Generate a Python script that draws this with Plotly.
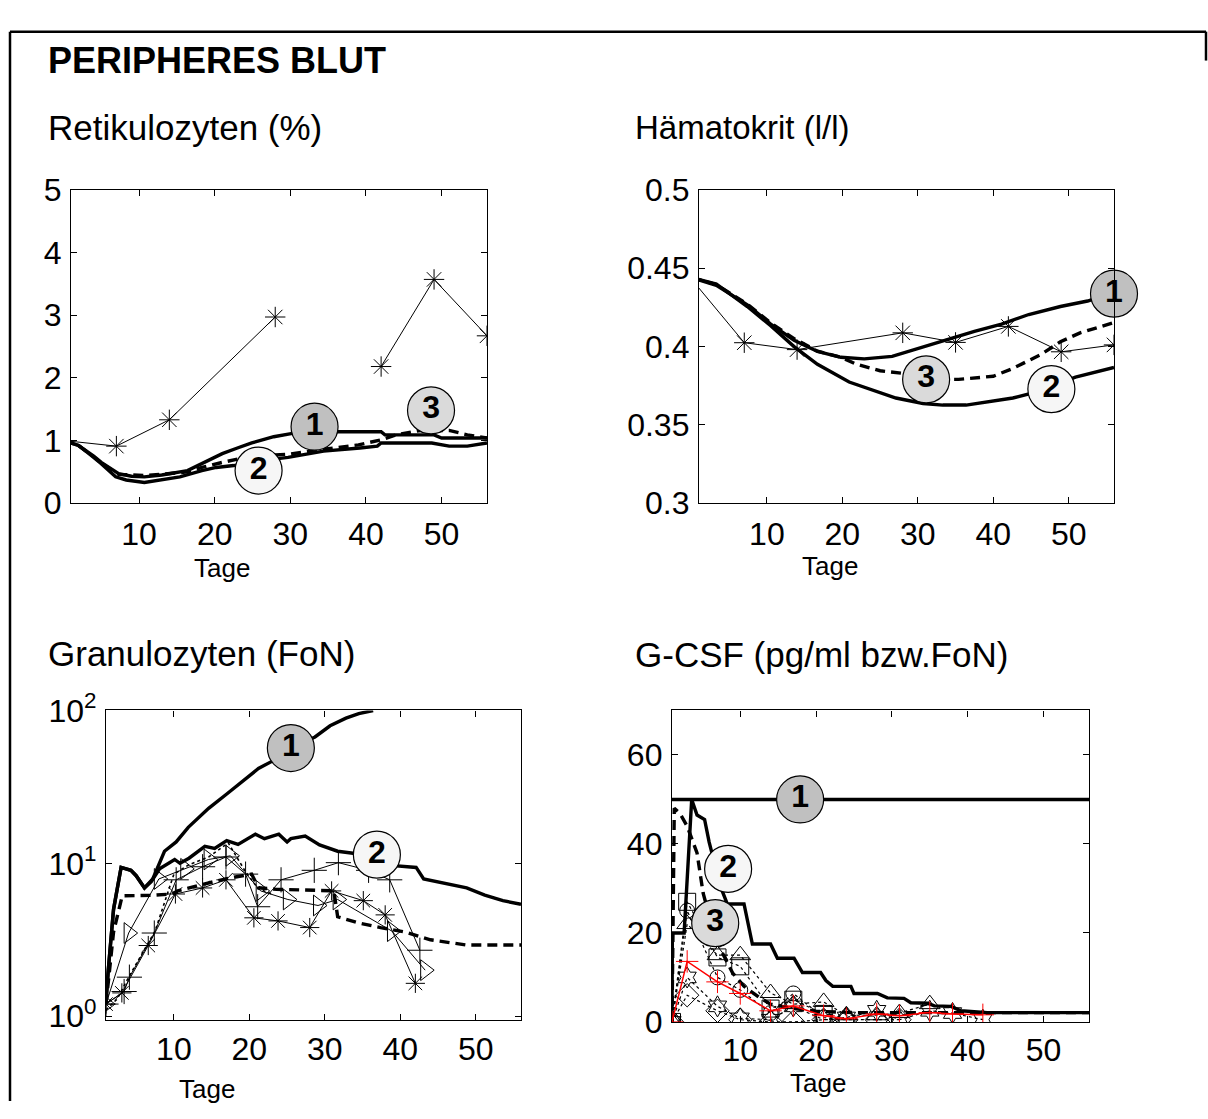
import plotly.graph_objects as go

W, H = 1208, 1119
FONT = "Liberation Sans, Arial, sans-serif"

# ---------------- Retikulozyten (%) ----------------
ret_meas_x1 = [0, 7, 14, 28]
ret_meas_y1 = [1.0, 0.91, 1.33, 2.97]
ret_meas_x2 = [42, 49, 56]
ret_meas_y2 = [2.18, 3.57, 2.67]
ret_m1_x = [0, 2, 4, 5, 7.3, 9, 10.7, 13, 16.4, 18.3, 21, 23, 24.9, 27.8, 30.1, 33, 36, 40, 42, 42.5, 48, 49, 50, 56]
ret_m1_y = [1.0, 0.92, 0.75, 0.65, 0.47, 0.43, 0.42, 0.45, 0.52, 0.63, 0.79, 0.88, 0.96, 1.06, 1.11, 1.14, 1.14, 1.14, 1.14, 1.09, 1.09, 1.09, 1.04, 1.04]
ret_m2_x = [0, 2, 4, 5, 6.9, 8.3, 10.7, 13, 15.4, 18.3, 20.2, 22.5, 25, 27, 29.7, 34.4, 39.2, 41.5, 42, 48.7, 51, 53.4, 56]
ret_m2_y = [1.0, 0.92, 0.73, 0.63, 0.42, 0.37, 0.33, 0.37, 0.42, 0.52, 0.57, 0.60, 0.65, 0.69, 0.73, 0.83, 0.88, 0.91, 0.96, 0.96, 0.91, 0.91, 0.96]
ret_m3_x = [0, 2, 4, 5, 7.3, 10.7, 13, 16.4, 18.3, 21, 24.9, 29.7, 34.4, 39, 42, 44, 47.2, 51, 53.4, 56]
ret_m3_y = [1.0, 0.92, 0.74, 0.64, 0.46, 0.44, 0.46, 0.50, 0.57, 0.65, 0.75, 0.78, 0.86, 0.93, 1.01, 1.09, 1.16, 1.16, 1.09, 1.04]
ret_lab_x = [33.2, 25.8, 48.6]
ret_lab_y = [1.22, 0.52, 1.48]

# ---------------- Hämatokrit (l/l) ----------------
hk_meas_x = [0, 7, 14, 28, 35, 42, 49, 56]
hk_meas_y = [0.443, 0.4024, 0.398, 0.4087, 0.4026, 0.4128, 0.3966, 0.401]
hk_m1_x = [0, 3.3, 7.4, 10.5, 13.6, 16.7, 19.8, 22.9, 26.6, 30.2, 34.4, 37.5, 41.1, 44.7, 48.9, 52.5, 56]
hk_m1_y = [0.444, 0.439, 0.4266, 0.4143, 0.404, 0.3968, 0.3931, 0.3921, 0.3937, 0.3989, 0.405, 0.4097, 0.4143, 0.4204, 0.4255, 0.429, 0.4345]
hk_m2_x = [0, 3.3, 7.4, 10.5, 13.6, 16.7, 20.9, 24, 27.1, 30.7, 33.3, 36.4, 39.5, 42.6, 45, 47.7, 50.9, 56]
hk_m2_y = [0.444, 0.4399, 0.4255, 0.4132, 0.3999, 0.3886, 0.3773, 0.3722, 0.3671, 0.3636, 0.3626, 0.3626, 0.365, 0.3671, 0.370, 0.3745, 0.3804, 0.3866]
hk_m3_x = [0, 3.3, 7.4, 10.5, 13.6, 16.7, 19.8, 21.9, 25, 28.7, 31.1, 35.4, 40, 42.6, 46.3, 48.9, 51.5, 56]
hk_m3_y = [0.444, 0.4395, 0.427, 0.415, 0.405, 0.397, 0.3931, 0.3886, 0.3845, 0.3825, 0.379, 0.379, 0.381, 0.386, 0.3948, 0.403, 0.4087, 0.4153]
hk_lab_x = [56, 47.7, 31.1]
hk_lab_y = [0.4337, 0.3728, 0.379]

# ---------------- Granulozyten (FoN) ----------------
gr_m1_x = [1, 1.3, 2, 3, 4.3, 5, 6.1, 7.2, 8.75, 10.3, 11.9, 14.1, 14.6, 17, 19.3, 21.2, 23.1, 25.5, 28.7, 30.7, 32.8, 34.5, 36.4]
gr_m1_y = [1.23, 2.0, 5.0, 9.4, 9.0, 8.3, 6.9, 7.9, 12.0, 13.8, 17.2, 21.9, 22.9, 28.4, 35.3, 41.7, 46.8, 56.8, 67.1, 79.4, 89.1, 95.5, 100]
gr_m2_x = [1, 1.3, 2, 3, 4.3, 5, 6.1, 7, 8.1, 10.1, 10.8, 12, 14.1, 15.4, 17, 18.5, 20.8, 22, 23.9, 25, 25.5, 27.4, 29.3, 31.7, 34, 36.9, 38.8, 42.1, 43.1, 46, 48.8, 51.2, 53.6, 56]
gr_m2_y = [1.23, 2.0, 5.0, 9.4, 9.0, 8.3, 6.9, 7.6, 9.2, 10.6, 10.0, 10.8, 12.9, 12.5, 14.1, 13.3, 15.5, 14.5, 15.5, 13.8, 14.5, 15.1, 13.2, 12.0, 11.6, 11.4, 9.7, 9.4, 7.9, 7.4, 6.9, 6.2, 5.7, 5.4]
gr_m3_x = [1, 1.5, 2, 3.15, 7, 9.8, 10.5, 13.6, 17, 20.3, 21.2, 23.6, 29.8, 31.2, 31.7, 34.5, 37.4, 40.7, 44, 48.8, 53, 56]
gr_m3_y = [1.2, 2.0, 3.55, 6.13, 6.17, 6.3, 6.6, 7.24, 7.94, 8.51, 6.92, 6.76, 6.61, 6.61, 4.47, 4.07, 3.80, 3.55, 3.16, 2.92, 2.92, 2.92]
gr_pa_x = [1, 3.4, 4.1, 7.4, 10.3, 13.8, 16.9, 19.5, 21.1, 24.2, 28.6, 31.8, 35.8, 38.6, 42.6]
gr_pa_y = [1.2, 1.45, 1.8, 3.5, 7.8, 9.5, 11.0, 8.5, 5.2, 7.8, 9.0, 10.1, 9.0, 7.8, 2.7]
gr_pb_x = [1, 3.1, 6.6, 10.2, 13.8, 16.9, 20.6, 23.8, 28, 30.9, 35.1, 38, 42]
gr_pb_y = [1.2, 1.42, 2.9, 6.3, 6.9, 7.8, 4.4, 4.2, 3.8, 6.6, 5.7, 4.6, 1.64]
gr_pc_x = [1, 4.0, 8.0, 11.5, 14.6, 17.5, 21.5, 25.1, 29.1, 31.7, 38.9, 43.3]
gr_pc_y = [1.2, 3.5, 7.9, 9.2, 10.6, 11.2, 6.6, 5.8, 5.3, 5.8, 3.6, 2.0]
gr_pd_x = [1, 2.5, 4, 7.5, 10, 12, 14.6, 17.2, 19.5, 21.2, 23]
gr_pd_y = [1.1, 1.3, 1.8, 3.6, 8.5, 9.8, 11, 13.6, 8.8, 6.8, 6.3]
gr_lab_x = [25.5, 36.9, 56.3]
gr_lab_y = [56.8, 11.4, 3.13]

# ---------------- G-CSF (pg/ml bzw. FoN) ----------------
cs_m1_x = [1, 56]
cs_m1_y = [50, 50]
cs_m2_x = [1, 1.05, 2.6, 3.6, 4.3, 5.3, 5.9, 7.4, 8.3, 10.5, 11.6, 14.0, 14.9, 17.1, 18.2, 20.6, 21.3, 22.2, 24.6, 25.0, 28.1, 29.4, 31.6, 32.5, 34.7, 35.6, 37.8, 39.1, 42.6, 56]
cs_m2_y = [0, 20, 20, 50, 46.5, 45.5, 40.4, 30.4, 26.5, 26.5, 17.5, 17.5, 14.3, 14.3, 11.1, 11.1, 9.3, 8.0, 8.0, 6.4, 6.4, 5.4, 5.3, 4.3, 4.2, 3.6, 3.5, 2.5, 2.1, 2.1]
cs_m3_x = [1, 1.3, 2, 3, 4.3, 5.1, 6.2, 7.5, 9, 10.5, 12.5, 14, 17, 20, 25, 56]
cs_m3_y = [0, 48, 47, 44, 38, 29, 22, 16, 11, 8, 5.5, 4, 3, 2.4, 2.1, 2.1]
cs_red_x = [1, 3, 7, 10, 14, 17, 21, 24, 28, 31, 35, 38, 42]
cs_red_y = [0, 13.6, 9.0, 6.4, 2.5, 3.6, 1.4, 0.7, 1.8, 1.4, 2.1, 1.8, 1.6]
cs_sq_x = [1, 3, 7, 10, 14, 17, 21]
cs_sq_y = [0, 27, 14.5, 12.5, 3, 5, 1.8]
cs_ci_x = [1, 3, 7, 10, 14, 17, 21, 24]
cs_ci_y = [0, 25, 10, 7.2, 2, 6.4, 1, 0.5]
cs_di_x = [1, 3, 7, 10, 14, 17, 21, 24, 28, 31]
cs_di_y = [0, 6, 2.5, 0.5, 0, 0, 0.5, 0.5, 0.5, 0.5]
cs_tr_x = [1, 3, 7, 10, 14, 17, 21, 24, 28, 31, 35]
cs_tr_y = [0, 22, 15, 15, 6.5, 4, 4.5, 1.5, 1.5, 2, 4]
cs_hx_x = [1, 3, 7, 10, 14, 17, 21, 24, 28, 31, 35, 38, 42]
cs_hx_y = [0, 10, 3.5, 0.8, 0.5, 3.5, 0.5, 1, 2.5, 0.5, 2.5, 2, 0.5]
cs_lab_x = [17.9, 8.4, 6.7]
cs_lab_y = [50, 34.4, 22.2]

lab_text = ["1", "2", "3"]
lab_fill = ["#c0c0c0", "#f6f6f6", "#dadada"]

# panel geometry (pixels): left, right, top, bottom
panels = {
    "tl": (71, 487, 174, 499),
    "tr": (699, 1114, 174, 499),
    "bl": (106, 521, 714, 1035),
    "br": (672, 1089, 714, 1037),
}

fig = go.Figure()

def ax_ids(i):
    return ("x" if i == 1 else f"x{i}"), ("y" if i == 1 else f"y{i}")

def add_line(i, x, y, width=3.4, dash="solid", color="black", marker=None, msize=12):
    xa, ya = ax_ids(i)
    kw = dict(x=x, y=y, xaxis=xa, yaxis=ya, showlegend=False, hoverinfo="skip",
              line=dict(color=color, width=width, dash=dash))
    if marker:
        kw["mode"] = "lines+markers"
        kw["marker"] = dict(symbol=marker, size=msize, color=color,
                            line=dict(color=color, width=1))
    else:
        kw["mode"] = "lines"
    fig.add_trace(go.Scatter(**kw))

def add_labels(i, x, y):
    xa, ya = ax_ids(i)
    fig.add_trace(go.Scatter(
        x=x, y=y, xaxis=xa, yaxis=ya, mode="markers+text",
        text=[f"<b>{t}</b>" for t in lab_text], textposition="middle center",
        textfont=dict(family=FONT, size=32, color="black"),
        marker=dict(symbol="circle", size=47, color=lab_fill,
                    line=dict(color="black", width=1.2)),
        cliponaxis=False, showlegend=False, hoverinfo="skip"))

DASH = "10px,6px"

# Panel 1
add_line(1, ret_m2_x, ret_m2_y)
add_line(1, ret_m3_x, ret_m3_y, dash=DASH)
add_line(1, ret_m1_x, ret_m1_y)
add_line(1, ret_meas_x1, ret_meas_y1, width=1, marker="asterisk-open", msize=17)
add_line(1, ret_meas_x2, ret_meas_y2, width=1, marker="asterisk-open", msize=17)
add_labels(1, ret_lab_x, ret_lab_y)

# Panel 2
add_line(2, hk_m2_x, hk_m2_y)
add_line(2, hk_m3_x, hk_m3_y, dash=DASH)
add_line(2, hk_m1_x, hk_m1_y)
add_line(2, hk_meas_x, hk_meas_y, width=1, marker="asterisk-open", msize=17)
add_labels(2, hk_lab_x, hk_lab_y)

# Panel 3
add_line(3, gr_pd_x, gr_pd_y, width=1.6, dash="dot")
add_line(3, gr_pa_x, gr_pa_y, width=1, marker="cross-thin-open", msize=18)
add_line(3, gr_pb_x, gr_pb_y, width=1, marker="asterisk-open", msize=16)
add_line(3, gr_pc_x, gr_pc_y, width=1, marker="triangle-right-open", msize=18)
add_line(3, gr_m3_x, gr_m3_y, dash=DASH)
add_line(3, gr_m2_x, gr_m2_y)
add_line(3, gr_m1_x, gr_m1_y)
add_labels(3, gr_lab_x, gr_lab_y)

# Panel 4
add_line(4, cs_sq_x, cs_sq_y, width=1.2, dash="dot", marker="square-open", msize=17)
add_line(4, cs_ci_x, cs_ci_y, width=1.2, dash="dot", marker="circle-open", msize=15)
add_line(4, cs_di_x, cs_di_y, width=1.2, dash="dot", marker="diamond-open", msize=18)
add_line(4, cs_tr_x, cs_tr_y, width=1.2, dash="dot", marker="triangle-up-open", msize=18)
add_line(4, cs_hx_x, cs_hx_y, width=1.2, dash="dot", marker="hexagram-open", msize=16)
add_line(4, cs_m3_x, cs_m3_y, dash=DASH)
add_line(4, cs_m2_x, cs_m2_y)
add_line(4, cs_m1_x, cs_m1_y)
add_line(4, cs_red_x, cs_red_y, width=1.5, color="red", marker="cross-thin-open", msize=16)
add_labels(4, cs_lab_x, cs_lab_y)

axis_common = dict(showline=True, linecolor="black", linewidth=1.3, mirror="ticks",
                   ticks="inside", ticklen=6, tickcolor="black", tickwidth=1,
                   showgrid=False, zeroline=False,
                   tickfont=dict(family=FONT, size=32, color="black"))

def xdom(p):
    return [p[0] / W, p[1] / W]

def ydom(p):
    return [1 - p[3] / H, 1 - p[2] / H]

layout = dict(
    width=W, height=H, margin=dict(l=0, r=0, t=0, b=0),
    paper_bgcolor="white", plot_bgcolor="white", showlegend=False,
)
xticks = [10, 20, 30, 40, 50]
order = ["tl", "tr", "bl", "br"]
standoff = {"tl": 2, "tr": 2, "bl": 0, "br": 0}
for i, key in enumerate(order, start=1):
    p = panels[key]
    xn = "xaxis" if i == 1 else f"xaxis{i}"
    yn = "yaxis" if i == 1 else f"yaxis{i}"
    ya_ref = "y" if i == 1 else f"y{i}"
    xa_ref = "x" if i == 1 else f"x{i}"
    layout[xn] = dict(axis_common, domain=xdom(p), anchor=ya_ref, range=[1, 56],
                      tickmode="array", tickvals=xticks, ticklabelstandoff=standoff[key])
    layout[yn] = dict(axis_common, domain=ydom(p), anchor=xa_ref, ticklabelstandoff=2)

layout["yaxis"].update(range=[0, 5], tickmode="array", tickvals=[0, 1, 2, 3, 4, 5])
layout["yaxis2"].update(range=[0.3, 0.5], tickmode="array",
                        tickvals=[0.3, 0.35, 0.4, 0.45, 0.5],
                        ticktext=["0.3", "0.35", "0.4", "0.45", "0.5"])
layout["yaxis3"].update(type="log", range=[-0.025, 2.0], tickmode="array",
                        tickvals=[1, 10, 100],
                        ticktext=["10<sup>0</sup>", "10<sup>1</sup>", "10<sup>2</sup>"])
layout["yaxis4"].update(range=[0, 70], tickmode="array", tickvals=[0, 20, 40, 60])

fig.update_layout(**layout)

def px_ann(text, x, y, size, bold=False, xanchor="left"):
    fig.add_annotation(text=(f"<b>{text}</b>" if bold else text),
                       x=x / W, y=1 - y / H, xref="paper", yref="paper",
                       xanchor=xanchor, yanchor="middle", showarrow=False,
                       font=dict(family=FONT, size=size, color="black"))

px_ann("PERIPHERES BLUT", 46, 40, 36, bold=True)
px_ann("Retikulozyten (%)", 46, 109, 35)
px_ann("Hämatokrit (l/l)", 633, 109, 33)
px_ann("Granulozyten (FoN)", 46, 655, 35)
px_ann("G-CSF (pg/ml bzw.FoN)", 633, 656, 35)
px_ann("Tage", 222, 566, 26, xanchor="center")
px_ann("Tage", 830, 564, 26, xanchor="center")
px_ann("Tage", 207, 1107, 26, xanchor="center")
px_ann("Tage", 818, 1100, 26, xanchor="center")

# outer frame: left and top edges, short right edge at the top corner
frame = dict(type="line", xref="paper", yref="paper", line=dict(color="black", width=2.5))
fig.add_shape(x0=10 / W, x1=10 / W, y0=0, y1=1 - 10 / H, **frame)
fig.add_shape(x0=10 / W, x1=1206 / W, y0=1 - 10 / H, y1=1 - 10 / H, **frame)
fig.add_shape(x0=1206 / W, x1=1206 / W, y0=1 - 10 / H, y1=1 - 40 / H, **frame)

fig.write_html("out.html")
